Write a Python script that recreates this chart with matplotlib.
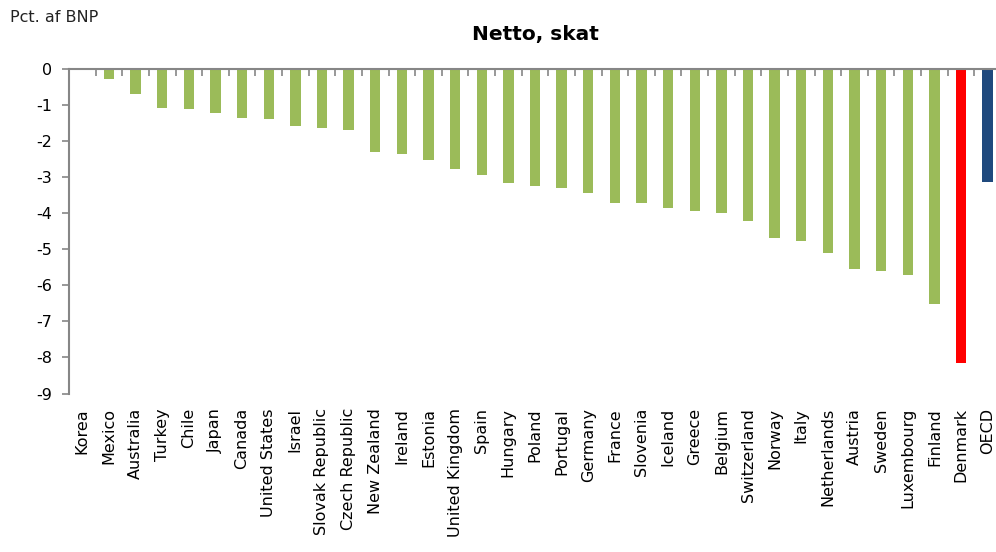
import numpy as np
import matplotlib
matplotlib.use("Agg")
import matplotlib.pyplot as plt

countries = ["Korea", "Mexico", "Australia", "Turkey", "Chile", "Japan", "Canada",
             "United States", "Israel", "Slovak Republic", "Czech Republic",
             "New Zealand", "Ireland", "Estonia", "United Kingdom", "Spain",
             "Hungary", "Poland", "Portugal", "Germany", "France", "Slovenia",
             "Iceland", "Greece", "Belgium", "Switzerland", "Norway", "Italy",
             "Netherlands", "Austria", "Sweden", "Luxembourg", "Finland",
             "Denmark", "OECD"]
values = [0.0, -0.28, -0.69, -1.07, -1.10, -1.21, -1.36, -1.40, -1.57, -1.63,
          -1.69, -2.31, -2.36, -2.51, -2.77, -2.95, -3.16, -3.24, -3.30, -3.44,
          -3.71, -3.71, -3.86, -3.95, -3.98, -4.21, -4.68, -4.77, -5.09, -5.56,
          -5.61, -5.70, -6.52, -8.16, -3.12]

green = "#9BBB59"
red = "#FF0000"
navy = "#1F497D"
grey = "#868686"
colors = [green] * len(countries)
colors[countries.index("Denmark")] = red
colors[countries.index("OECD")] = navy

plt.rcParams['font.family'] = ['DejaVu Sans']

fig = plt.figure(figsize=(9.96, 5.52), dpi=100)
ax = fig.add_axes([0.0693, 0.2871, 0.9357, 0.5879])

x = np.arange(len(countries))
ax.bar(x, values, width=0.39, color=colors)

ax.set_xlim(-0.5, len(countries) - 0.5)
ax.set_ylim(-9, 0)
ax.set_yticks(range(-9, 1))
ax.set_yticklabels([str(v) for v in range(-9, 1)], fontsize=11.5)

ax.set_xticks(x)
ax.set_xticklabels(countries, rotation=90, fontsize=11.5, va='top')
ax.set_xticks(np.arange(-0.5, len(countries), 1), minor=True)
ax.tick_params(axis='x', which='major', bottom=False, top=False, pad=7)
ax.tick_params(axis='x', which='minor', bottom=False, top=True, direction='in',
               length=5, color=grey, width=1.2)
ax.tick_params(axis='y', which='major', left=True, direction='out', length=5,
               color=grey, width=1.2, pad=7)

for s in ('bottom', 'right'):
    ax.spines[s].set_visible(False)
for s in ('top', 'left'):
    ax.spines[s].set_color(grey)
    ax.spines[s].set_linewidth(1.5)

ax.set_title("Netto, skat", fontsize=14.5, fontweight='bold', pad=21)
fig.text(0.01, 1 - 18 / 552, "Pct. af BNP", fontsize=11.5, va='center', ha='left',
         color="#222222")

fig.savefig("out.png", dpi=100)
